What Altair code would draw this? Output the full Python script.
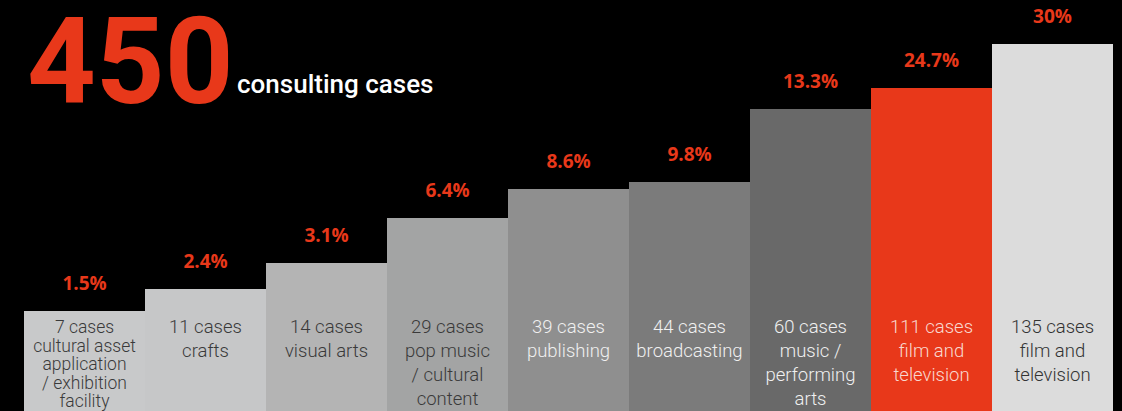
import altair as alt
import pandas as pd

# ---- data ----
cases = [7, 11, 14, 29, 39, 44, 60, 111, 135]
categories = [
    "cultural asset\napplication\n/ exhibition\nfacility",
    "crafts",
    "visual arts",
    "pop music\n/ cultural\ncontent",
    "publishing",
    "broadcasting",
    "music /\nperforming\narts",
    "film and\ntelevision",
    "film and\ntelevision",
]
percent_labels = ["1.5%", "2.4%", "3.1%", "6.4%", "8.6%", "9.8%", "13.3%", "24.7%", "30%"]
# stepped bar heights as drawn (decorative, not proportional to percent)
bar_levels = [100, 122, 148, 193, 222, 229, 302, 323, 367]
total_cases = "450"
headline = "consulting cases"

# ---- styles ----
bar_colors = ["#c8c9ca", "#c6c7c8", "#b4b4b4", "#a3a4a4", "#8f8f8f",
              "#7b7b7b", "#696969", "#e8381a", "#dcdcdc"]
text_colors = ["#3a3a3a", "#3a3a3a", "#3a3a3a", "#3a3a3a", "#f0f0f0",
               "#f0f0f0", "#f0f0f0", "#f8d8d0", "#333333"]
RED = "#e8381a"
FONT = "Roboto"

idx = [str(i) for i in range(len(cases))]
df = pd.DataFrame({
    "idx": idx,
    "level": bar_levels,
    "pct": percent_labels,
    "label": [f"{c} cases\n{cat}" for c, cat in zip(cases, categories)],
    "first": [i == 0 for i in range(len(cases))],
})

x = alt.X("idx:N", sort=idx, axis=None,
          scale=alt.Scale(paddingInner=0, paddingOuter=0))
y = alt.Y("level:Q", axis=None, scale=alt.Scale(domain=[0, 411], nice=False, zero=True))

base = alt.Chart(df)

bars = base.mark_bar(cornerRadius=0, strokeWidth=0).encode(
    x=x, y=y, y2=alt.datum(0),
    color=alt.Color("idx:N", sort=idx, scale=alt.Scale(domain=idx, range=bar_colors), legend=None),
)

pct_text = base.mark_text(font="Open Sans", fontWeight="bold", fontSize=19,
                          color=RED, baseline="middle", dy=-27).encode(
    x=x, y=y, text="pct:N")

tc = alt.Color("idx:N", sort=idx, scale=alt.Scale(domain=idx, range=text_colors), legend=None)

label_first = base.transform_filter("datum.first").mark_text(
    font=FONT, fontWeight=300, fontSize=17.5, baseline="top", align="center",
    lineBreak="\n", lineHeight=18.5).encode(
    x=x, y=alt.value(319), text="label:N", color=tc)
label_rest = base.transform_filter("!datum.first").mark_text(
    font=FONT, fontWeight=300, fontSize=18.5, baseline="top", align="center",
    lineBreak="\n", lineHeight=24).encode(
    x=x, y=alt.value(318), text="label:N", color=tc)

big = alt.Chart(pd.DataFrame({"t": [total_cases]})).mark_text(
    font=FONT, fontWeight="bold", fontSize=120, color=RED, align="left", baseline="alphabetic"
).encode(x=alt.value(3), y=alt.value(103), text="t:N")

sub = alt.Chart(pd.DataFrame({"t": [headline]})).mark_text(
    font=FONT, fontWeight=500, fontSize=26, color="#ffffff", align="left", baseline="alphabetic"
).encode(x=alt.value(213), y=alt.value(93), text="t:N")

chart = alt.layer(bars, pct_text, label_first, label_rest, big, sub).resolve_scale(
    color="independent"
).properties(
    width=1089, height=411,
    padding={"left": 24, "right": 9, "top": 0, "bottom": 0},
    autosize=alt.AutoSizeParams(type="none"),
    background="#000000",
).configure_view(stroke=None, fill="#000000")

chart.save("out.html", embed_options={"renderer": "svg", "actions": False})
